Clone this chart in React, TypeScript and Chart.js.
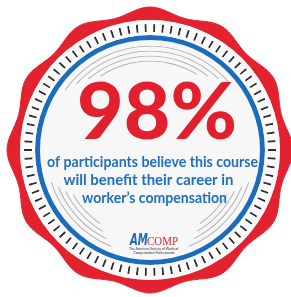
import React, { useEffect, useRef } from "react";
import { Chart, registerables } from "chart.js";

Chart.register(...registerables);

// ---- content / data ----
const PERCENT_LABEL = "98%";
const CAPTION_LINES = [
  "of participants believe this course",
  "will benefit their career in",
  "worker’s compensation",
];
const LOGO_PARTS = ["AM", "COMP"];
const LOGO_SUBTITLE = ["The American Society of Workers'", "Compensation Professionals"];

// scalloped seal edge: alternating peak / valley radii
const SCALLOP_LOBES = 12;
const SCALLOP_VALUES = [143, 136];
// dashes round the seal
const TICK_COUNT = 90;
// decorative gray arcs: radii and spans (math degrees) per group
const ARC_RADII = [104, 99, 94, 89];
const ARC_TOP = [[40, 145], [46, 138], [52, 131], [58, 124]];
const ARC_LOWER_LEFT = [[198, 248], [202, 244], [206, 240], [210, 236]];
const ARC_LOWER_RIGHT = [[292, 342], [296, 338], [300, 334], [304, 330]];

// ---- styles ----
const RED = "#e2222f";
const BLUE = "#1c6cbd";
const TICK = "#2d2d2d";
const GRAY_LINE = "#b5b5b5";
const INNER_BG = "#f7f7f7";
const RING_BG = "#fbfbfb";
const RED_TEXT = "#e21f2d";
const BLUE_TEXT = "#1f6fc0";

const RADAR_R = 146; // radar canvas half-size
const RING_R = 130; // doughnut canvas half-size
const CX = 150;
const CY = 150;

function fitText(
  ctx: CanvasRenderingContext2D,
  text: string,
  cx: number,
  baseline: number,
  width: number,
  font: string,
  color: string
) {
  ctx.save();
  ctx.font = font;
  ctx.fillStyle = color;
  ctx.textAlign = "center";
  ctx.textBaseline = "alphabetic";
  const w = ctx.measureText(text).width || 1;
  ctx.translate(cx, baseline);
  ctx.scale(width / w, 1);
  ctx.fillText(text, 0, 0);
  ctx.restore();
}

function lineSegments(i: number) {
  const spans = [ARC_TOP[i], ARC_LOWER_LEFT[i], ARC_LOWER_RIGHT[i]];
  const iv: number[][] = [];
  spans.forEach(([a1, a2]) => {
    let t1 = 90 - a2;
    while (t1 < 0) t1 += 360;
    const t2 = t1 + (a2 - a1);
    if (t2 > 360) {
      iv.push([t1, 360]);
      iv.push([0, t2 - 360]);
    } else iv.push([t1, t2]);
  });
  iv.sort((a, b) => a[0] - b[0]);
  const data: number[] = [];
  const colors: string[] = [];
  let pos = 0;
  iv.forEach(([s, e]) => {
    if (s > pos) {
      data.push(s - pos);
      colors.push(INNER_BG);
    }
    data.push(e - s);
    colors.push(GRAY_LINE);
    pos = e;
  });
  if (pos < 360) {
    data.push(360 - pos);
    colors.push(INNER_BG);
  }
  return { data, colors };
}

function buildRings() {
  const rings: { thick: number; data: number[]; colors: string[] }[] = [];
  rings.push({ thick: 4, data: [360], colors: [RING_BG] });
  const step = 360 / TICK_COUNT;
  const tw = 0.9;
  const td: number[] = [step / 2 - tw / 2];
  const tc: string[] = [RING_BG];
  for (let i = 0; i < TICK_COUNT; i++) {
    td.push(tw);
    tc.push(TICK);
    td.push(i < TICK_COUNT - 1 ? step - tw : step / 2 - tw / 2);
    tc.push(RING_BG);
  }
  rings.push({ thick: 8, data: td, colors: tc });
  rings.push({ thick: 3, data: [360], colors: [RING_BG] });
  rings.push({ thick: 5, data: [360], colors: [BLUE] });
  let r = 110;
  const LW = 1.2;
  ARC_RADII.forEach((ar, i) => {
    rings.push({ thick: r - (ar + LW / 2), data: [360], colors: [INNER_BG] });
    const s = lineSegments(i);
    rings.push({ thick: LW, data: s.data, colors: s.colors });
    r = ar - LW / 2;
  });
  rings.push({ thick: r, data: [360], colors: [INNER_BG] });
  return rings;
}

const textPlugin = {
  id: "badgeText",
  afterDraw(chart: any) {
    const ctx: CanvasRenderingContext2D = chart.ctx;
    const arc = chart.getDatasetMeta(0).data[0];
    const ox = arc.x - CX;
    const oy = arc.y - CY;
    fitText(ctx, PERCENT_LABEL, 157 + ox, 139 + oy, 160, '900 78px Lato, "DejaVu Sans", sans-serif', RED_TEXT);
    const caption = [
      { cx: 152.5, y: 167, w: 211 },
      { cx: 148.5, y: 185, w: 170 },
      { cx: 154.5, y: 203, w: 145 },
    ];
    CAPTION_LINES.forEach((t, i) => {
      const c = caption[i];
      fitText(ctx, t, c.cx + ox, c.y + oy, c.w, 'bold 15px Lato, "DejaVu Sans", sans-serif', BLUE_TEXT);
    });
    fitText(ctx, LOGO_PARTS[0], 139 + ox, 245 + oy, 18, 'italic 900 16px "DejaVu Sans", sans-serif', BLUE);
    fitText(ctx, LOGO_PARTS[1], 162.5 + ox, 245 + oy, 31, '13px "Liberation Serif", serif', RED);
    fitText(ctx, LOGO_SUBTITLE[0], 154 + ox, 249.5 + oy, 50, '4px Lato, sans-serif', "#333");
    fitText(ctx, LOGO_SUBTITLE[1], 154 + ox, 254 + oy, 41, '4px Lato, sans-serif', "#333");
  },
};

export default function App() {
  const radarRef = useRef<HTMLCanvasElement>(null);
  const ringRef = useRef<HTMLCanvasElement>(null);

  useEffect(() => {
    const labels: string[] = [];
    const scallop: number[] = [];
    for (let i = 0; i < SCALLOP_LOBES * 2; i++) {
      labels.push("");
      scallop.push(SCALLOP_VALUES[i % 2]);
    }
    const radar = new Chart(radarRef.current!, {
      type: "radar",
      data: {
        labels,
        datasets: [
          {
            data: scallop,
            backgroundColor: RED,
            borderColor: RED,
            borderWidth: 1,
            fill: "origin",
            pointRadius: 0,
            tension: 0.35,
          },
        ],
      },
      options: {
        responsive: false,
        animation: false,
        events: [],
        layout: { padding: 0 },
        plugins: { legend: { display: false }, tooltip: { enabled: false } },
        scales: {
          r: {
            min: 0,
            max: RADAR_R,
            ticks: { display: false },
            grid: { display: false },
            angleLines: { display: false },
            pointLabels: { display: false },
          },
        },
      },
    } as any);

    const rings = buildRings();
    const ring = new Chart(ringRef.current!, {
      type: "doughnut",
      data: {
        labels: [],
        datasets: rings.map((r) => ({
          data: r.data,
          backgroundColor: r.colors,
          borderWidth: 0,
          weight: r.thick,
        })),
      },
      options: {
        responsive: false,
        animation: false,
        events: [],
        cutout: 0,
        rotation: 0,
        layout: { padding: 0 },
        plugins: { legend: { display: false }, tooltip: { enabled: false } },
      },
      plugins: [textPlugin],
    } as any);

    return () => {
      radar.destroy();
      ring.destroy();
    };
  }, []);

  return (
    <div
      style={{
        position: "fixed",
        left: 0,
        top: 0,
        width: 291,
        height: 297,
        overflow: "hidden",
        background: "#fff",
      }}
    >
      <canvas
        ref={radarRef}
        width={RADAR_R * 2}
        height={RADAR_R * 2}
        style={{ position: "absolute", left: CX - RADAR_R, top: CY - RADAR_R, width: RADAR_R * 2, height: RADAR_R * 2 }}
      />
      <canvas
        ref={ringRef}
        width={RING_R * 2}
        height={RING_R * 2}
        style={{
          position: "absolute",
          left: CX - RING_R,
          top: CY - RING_R,
          width: RING_R * 2,
          height: RING_R * 2,
          borderRadius: "50%",
          background: RING_BG,
        }}
      />
    </div>
  );
}
